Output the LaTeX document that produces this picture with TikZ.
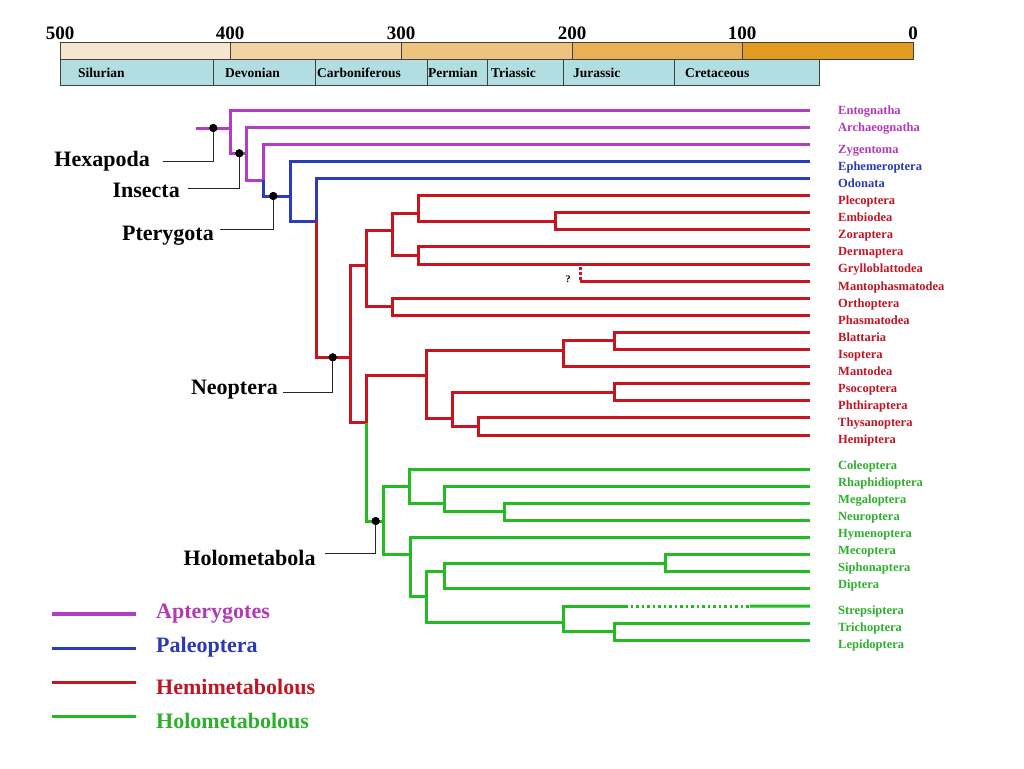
\documentclass[tikz,border=0pt]{standalone}
\usepackage{fontspec}
\setmainfont{Liberation Serif}
\definecolor{cpur}{HTML}{B23CC4}
\definecolor{cblu}{HTML}{2B3BBF}
\definecolor{cred}{HTML}{C8141E}
\definecolor{cgrn}{HTML}{22BB22}
\definecolor{tpur}{HTML}{B23AB8}
\definecolor{tblu}{HTML}{2A3AB5}
\definecolor{tred}{HTML}{C01525}
\definecolor{tgrn}{HTML}{2DB02D}
\definecolor{ta}{HTML}{F7E6CB}
\definecolor{tb}{HTML}{F2D3A2}
\definecolor{tc}{HTML}{EEC27F}
\definecolor{td}{HTML}{EAB053}
\definecolor{te}{HTML}{E29C20}
\definecolor{per}{HTML}{B3DEE1}
\begin{document}
\begin{tikzpicture}[x=1pt,y=-1pt,
  br/.style={line width=3pt},
  pur/.style={br,draw=cpur},
  blu/.style={br,draw=cblu},
  rd/.style={br,draw=cred},
  grn/.style={br,draw=cgrn},
  taxon/.style={anchor=base west,inner sep=0pt,font=\fontsize{12.5}{14}\selectfont\bfseries},
  big/.style={anchor=base east,inner sep=0pt,font=\fontsize{22}{24}\selectfont\bfseries},
  leg/.style={anchor=base west,inner sep=0pt,font=\fontsize{22}{24}\selectfont\bfseries},
  num/.style={anchor=base,inner sep=0pt,font=\fontsize{19}{21}\selectfont\bfseries},
  perlab/.style={anchor=base west,inner sep=0pt,font=\fontsize{13.5}{15}\selectfont\bfseries},
  lab/.style={line width=1.2pt,draw=black!85},
  dot/.style={circle,fill=black,inner sep=0pt,minimum size=8pt},
  legline/.style={line width=3.5pt}]
\useasboundingbox[fill=white] (0,0) rectangle (1024,768);

% ---- time scale ----
\foreach \a/\b/\c in {60/230/ta,230/401/tb,401/572/tc,572/742/td,742/913/te}
  \filldraw[fill=\c,draw=black!75,line width=0.8pt] (\a,42) rectangle (\b,59);
\foreach \x/\t in {60/500,230/400,401/300,572/200,742/100,913/0}
  \node[num] (m\t) at (\x,39.5) {\t};
\foreach \a/\b in {60/213,213/315,315/427,427/487,487/563,563/674,674/819}
  \filldraw[fill=per,draw=black!75,line width=0.8pt] (\a,59) rectangle (\b,85);
\foreach \x/\t in {78/Silurian,225/Devonian,317/Carboniferous,428/Permian,491/Triassic,573/Jurassic,685/Cretaceous}
  \node[perlab] (p\t) at (\x,77.3) {\t};

% ---- leaf tips ----
\foreach \i in {0,...,19,21,22,...,31}
  \coordinate (l\i) at (810,110.1+17.1*\i);

% ---- internal nodes ----
\coordinate (root) at (196,128);
\coordinate (nHex) at (230,128);
\coordinate (nIns) at (246.7,153.3);
\coordinate (nDic) at (263.3,180);
\coordinate (nPte) at (290,196);
\coordinate (nMet) at (316,221);
\coordinate (nNeo) at (350,357.3);
\coordinate (nPol) at (366.7,265);
\coordinate (nEum) at (366.7,422.7);
\coordinate (nA) at (392.7,230);
\coordinate (nOP) at (392.7,306.75);
\coordinate (nB) at (418.3,213.3);
\coordinate (nC) at (418.3,255.45);
\coordinate (nEZ) at (555,221.25);
\coordinate (nMan) at (580,266.5);
\coordinate (nF) at (426.7,375.5);
\coordinate (nG) at (563.3,350);
\coordinate (nBI) at (614.3,340.95);
\coordinate (nK) at (452.3,418.3);
\coordinate (nPP) at (614.3,392.25);
\coordinate (nTH) at (478.3,426.45);
\coordinate (nHol) at (383.3,521);
\coordinate (nQ) at (409.3,486);
\coordinate (nNR) at (444,503.3);
\coordinate (nMN) at (504,511.95);
\coordinate (nS) at (410,554.3);
\coordinate (nT) at (426.7,596.7);
\coordinate (nU) at (444,571.7);
\coordinate (nW) at (665.7,563.25);
\coordinate (nV) at (563.3,622.3);
\coordinate (nX) at (614.3,631.65);
\coordinate (s1) at (625,606);
\coordinate (s2) at (750,606);

% ---- branches ----
\draw[pur] (root) -- (nHex);
\draw[pur] (nHex) |- (l0);
\draw[pur] (nHex) |- (nIns);
\draw[pur] (nIns) |- (l1);
\draw[pur] (nIns) |- (nDic);
\draw[pur] (nDic) |- (l2);
\draw[blu] (nDic) |- (nPte);
\draw[blu] (nPte) |- (l3);
\draw[blu] (nPte) |- (nMet);
\draw[blu] (nMet) |- (l4);
\draw[rd] (nMet) |- (nNeo);
\draw[rd] (nNeo) |- (nPol);
\draw[rd] (nNeo) |- (nEum);
\draw[rd] (nPol) |- (nA);
\draw[rd] (nPol) |- (nOP);
\draw[rd] (nA) |- (nB);
\draw[rd] (nA) |- (nC);
\draw[rd] (nB) |- (l5);
\draw[rd] (nB) |- (nEZ);
\draw[rd] (nEZ) |- (l6);
\draw[rd] (nEZ) |- (l7);
\draw[rd] (nC) |- (l8);
\draw[rd] (nC) |- (l9);
\draw[rd,dash pattern=on 3pt off 2pt] (nMan) -- (nMan |- l10);
\draw[rd] (nMan |- l10) -- (l10);
\draw[rd] (nOP) |- (l11);
\draw[rd] (nOP) |- (l12);
\draw[rd] (nEum) |- (nF);
\draw[rd] (nF) |- (nG);
\draw[rd] (nF) |- (nK);
\draw[rd] (nG) |- (nBI);
\draw[rd] (nG) |- (l15);
\draw[rd] (nBI) |- (l13);
\draw[rd] (nBI) |- (l14);
\draw[rd] (nK) |- (nPP);
\draw[rd] (nK) |- (nTH);
\draw[rd] (nPP) |- (l16);
\draw[rd] (nPP) |- (l17);
\draw[rd] (nTH) |- (l18);
\draw[rd] (nTH) |- (l19);
\draw[grn] (nEum) |- (nHol);
\draw[grn] (nHol) |- (nQ);
\draw[grn] (nHol) |- (nS);
\draw[grn] (nQ) |- (l21);
\draw[grn] (nQ) |- (nNR);
\draw[grn] (nNR) |- (l22);
\draw[grn] (nNR) |- (nMN);
\draw[grn] (nMN) |- (l23);
\draw[grn] (nMN) |- (l24);
\draw[grn] (nS) |- (l25);
\draw[grn] (nS) |- (nT);
\draw[grn] (nT) |- (nU);
\draw[grn] (nT) |- (nV);
\draw[grn] (nU) |- (nW);
\draw[grn] (nU) |- (l28);
\draw[grn] (nW) |- (l26);
\draw[grn] (nW) |- (l27);
\draw[grn] (nV) |- (s1);
\draw[grn,dash pattern=on 2.5pt off 3pt] (s1) -- (s2);
\draw[grn] (s2) -- (l29);
\draw[grn] (nV) |- (nX);
\draw[grn] (nX) |- (l30);
\draw[grn] (nX) |- (l31);

\node[font=\fontsize{10}{12}\selectfont\bfseries,inner sep=0pt] (q) at (568,279) {?};

% ---- clade labels ----
\node[dot] (dHex) at (213.3,128) {};
\node[dot] (dIns) at (239.3,153.3) {};
\node[dot] (dPte) at (273.3,196) {};
\node[dot] (dNeo) at (332.7,357.3) {};
\node[dot] (dHol) at (375.7,521) {};
\node[big] (tHex) at (150,166.7) {Hexapoda};
\node[big] (tIns) at (180,197) {Insecta};
\node[big] (tPte) at (214,240) {Pterygota};
\node[big] (tNeo) at (278,394) {Neoptera};
\node[big] (tHol) at (315.7,565) {Holometabola};
\coordinate (eHex) at (162.7,161.7);
\coordinate (eIns) at (188.3,188.3);
\coordinate (ePte) at (220,229.3);
\coordinate (eNeo) at (283.3,392.3);
\coordinate (eHol) at (325,553.3);
\draw[lab] (dHex.center) |- (eHex);
\draw[lab] (dIns.center) |- (eIns);
\draw[lab] (dPte.center) |- (ePte);
\draw[lab] (dNeo.center) |- (eNeo);
\draw[lab] (dHol.center) |- (eHol);
\node[dot] at (dHex) {};
\node[dot] at (dIns) {};
\node[dot] at (dPte) {};
\node[dot] at (dNeo) {};
\node[dot] at (dHol) {};

% ---- taxon names ----
\node[taxon,text=tpur] (t0) at (838,114.2) {Entognatha};
\node[taxon,text=tpur] (t1) at (838,131.8) {Archaeognatha};
\node[taxon,text=tpur] (t2) at (838,153.5) {Zygentoma};
\node[taxon,text=tblu] (t3) at (838,170.2) {Ephemeroptera};
\node[taxon,text=tblu] (t4) at (838,187.5) {Odonata};
\foreach \k/\t in {0/Plecoptera,1/Embiodea,2/Zoraptera,3/Dermaptera,4/Grylloblattodea,5/Mantophasmatodea,6/Orthoptera,7/Phasmatodea,8/Blattaria,9/Isoptera,10/Mantodea,11/Psocoptera,12/Phthiraptera,13/Thysanoptera,14/Hemiptera}
  \node[taxon,text=tred] (x\t) at (838,204.5+17.1*\k) {\t};
\foreach \y/\t in {465.7/Coleoptera,482.7/Rhaphidioptera,500/Megaloptera,516.7/Neuroptera,534/Hymenoptera,551/Mecoptera,567.7/Siphonaptera,585/Diptera,611/Strepsiptera,627.7/Trichoptera,644.7/Lepidoptera}
  \node[taxon,text=tgrn] (x\t) at (838,\y+3.5) {\t};

% ---- legend ----
\coordinate (g1a) at (51.7,614);   \coordinate (g1b) at (136,614);
\coordinate (g2a) at (51.7,648.3); \coordinate (g2b) at (136,648.3);
\coordinate (g3a) at (51.7,682.7); \coordinate (g3b) at (136,682.7);
\coordinate (g4a) at (51.7,716.7); \coordinate (g4b) at (136,716.7);
\draw[legline,cpur] (g1a) -- (g1b);
\draw[legline,cblu] (g2a) -- (g2b);
\draw[legline,cred] (g3a) -- (g3b);
\draw[legline,cgrn] (g4a) -- (g4b);
\node[leg,text=tpur] (L1) at (156,618.3) {Apterygotes};
\node[leg,text=tblu] (L2) at (156,652.7) {Paleoptera};
\node[leg,text=tred] (L3) at (156,694.3) {Hemimetabolous};
\node[leg,text=tgrn] (L4) at (156,728.3) {Holometabolous};
\end{tikzpicture}
\end{document}
